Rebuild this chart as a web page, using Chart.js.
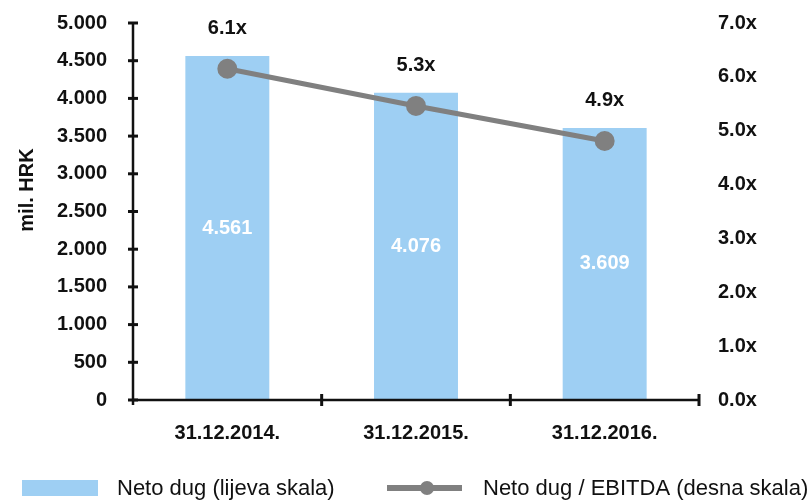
<!DOCTYPE html>
<html>
<head>
<meta charset="utf-8">
<script src="https://cdn.jsdelivr.net/npm/chart.js@4.4.1/dist/chart.umd.min.js"></script>
<style>
  html, body { margin: 0; padding: 0; background: #fff; }
  #wrap { width: 809px; height: 500px; }
</style>
</head>
<body>
<div id="wrap"><canvas id="chart" width="809" height="500"></canvas></div>
<script>
const categories = ['31.12.2014.', '31.12.2015.', '31.12.2016.'];
const netoDug = [4561, 4076, 3609];
const netoDugLabels = ['4.561', '4.076', '3.609'];
const ratio = [6.15, 5.46, 4.81];
const ratioLabels = ['6.1x', '5.3x', '4.9x'];
const leftTicks = [0, 500, 1000, 1500, 2000, 2500, 3000, 3500, 4000, 4500, 5000];

const barColor = '#9ecff3';
const lineColor = '#808080';
const font = '"Liberation Sans", Arial, Helvetica, sans-serif';

// axes, labels and legend drawn by hand
const extras = {
    id: 'extras',
    afterDatasetsDraw(chart) {
        const ctx = chart.ctx;
        const x = chart.scales.x;
        const y = chart.scales.y;
        const area = chart.chartArea;
        ctx.save();

        // value labels in bars
        ctx.fillStyle = '#fff';
        ctx.font = `bold 20px ${font}`;
        ctx.textAlign = 'center';
        ctx.textBaseline = 'middle';
        chart.getDatasetMeta(1).data.forEach((bar, i) => {
            ctx.fillText(netoDugLabels[i], bar.x, (bar.y + bar.base) / 2);
        });

        // ratio labels above points
        ctx.fillStyle = '#111';
        chart.getDatasetMeta(0).data.forEach((pt, i) => {
            ctx.fillText(ratioLabels[i], pt.x, pt.y - 40);
        });

        // left axis
        ctx.strokeStyle = '#111';
        ctx.lineWidth = 2.5;
        ctx.beginPath();
        ctx.moveTo(area.left, y.getPixelForValue(5000));
        ctx.lineTo(area.left, area.bottom + 5);
        ctx.stroke();
        ctx.lineWidth = 3;
        leftTicks.forEach(v => {
            const py = y.getPixelForValue(v);
            ctx.beginPath();
            ctx.moveTo(area.left - 5, py);
            ctx.lineTo(area.left + 5, py);
            ctx.stroke();
        });

        // bottom axis
        ctx.lineWidth = 2.5;
        ctx.beginPath();
        ctx.moveTo(area.left, area.bottom);
        ctx.lineTo(area.right, area.bottom);
        ctx.stroke();
        ctx.lineWidth = 3;
        const step = x.getPixelForValue(1) - x.getPixelForValue(0);
        for (let i = 1; i <= categories.length; i++) {
            const px = x.getPixelForValue(i - 1) + step / 2;
            ctx.beginPath();
            ctx.moveTo(px, area.bottom - 6);
            ctx.lineTo(px, area.bottom + 6);
            ctx.stroke();
        }

        // axis title
        ctx.save();
        ctx.translate(27, 190);
        ctx.rotate(-Math.PI / 2);
        ctx.fillStyle = '#111';
        ctx.font = `bold 20px ${font}`;
        ctx.fillText('mil. HRK', 0, 0);
        ctx.restore();

        // legend
        ctx.fillStyle = barColor;
        ctx.fillRect(22, 480, 76, 16);
        ctx.strokeStyle = lineColor;
        ctx.lineWidth = 6;
        ctx.beginPath();
        ctx.moveTo(387, 488);
        ctx.lineTo(462, 488);
        ctx.stroke();
        ctx.fillStyle = lineColor;
        ctx.beginPath();
        ctx.arc(427, 488, 7, 0, Math.PI * 2);
        ctx.fill();
        ctx.fillStyle = '#111';
        ctx.font = `22px ${font}`;
        ctx.textAlign = 'left';
        ctx.fillText('Neto dug (lijeva skala)', 117, 489);
        ctx.fillText('Neto dug / EBITDA (desna skala)', 483, 489);

        ctx.restore();
    }
};

const fixSide = (w) => (s) => {
    s.width = w;
    s.paddingTop = 0;
    s.paddingBottom = 0;
};

new Chart(document.getElementById('chart'), {
    data: {
        labels: categories,
        datasets: [
            {
                type: 'line',
                data: ratio,
                yAxisID: 'y2',
                borderColor: lineColor,
                backgroundColor: lineColor,
                borderWidth: 5,
                pointRadius: 7.5,
                pointHoverRadius: 7.5,
                order: 1,
            },
            {
                type: 'bar',
                data: netoDug,
                yAxisID: 'y',
                backgroundColor: barColor,
                barPercentage: 0.445,
                categoryPercentage: 1,
                order: 2,
            }
        ]
    },
    options: {
        responsive: false,
        animation: false,
        layout: { padding: { top: 23, bottom: 0, left: 0, right: 0 } },
        plugins: {
            legend: { display: false },
            tooltip: { enabled: false },
        },
        scales: {
            x: {
                grid: { display: false, drawTicks: false },
                border: { display: false },
                ticks: {
                    color: '#111',
                    font: { family: font, size: 20, weight: 'bold' },
                    padding: 21,
                },
                afterFit: (s) => {
                    s.height = 100;
                    s.paddingLeft = 0;
                    s.paddingRight = 0;
                },
            },
            y: {
                position: 'left',
                min: 0,
                max: 5000,
                grid: { display: false, drawTicks: false },
                border: { display: false },
                ticks: {
                    stepSize: 500,
                    color: '#111',
                    font: { family: font, size: 20, weight: 'bold' },
                    padding: 26,
                    callback: (v) => v.toLocaleString('de-DE'),
                },
                afterFit: fixSide(133),
            },
            y2: {
                position: 'right',
                min: 0,
                max: 7,
                grid: { display: false, drawTicks: false },
                border: { display: false },
                ticks: {
                    stepSize: 1,
                    color: '#111',
                    font: { family: font, size: 20, weight: 'bold' },
                    padding: 19,
                    callback: (v) => v.toFixed(1) + 'x',
                },
                afterFit: fixSide(110),
            }
        }
    },
    plugins: [extras]
});
</script>
</body>
</html>
